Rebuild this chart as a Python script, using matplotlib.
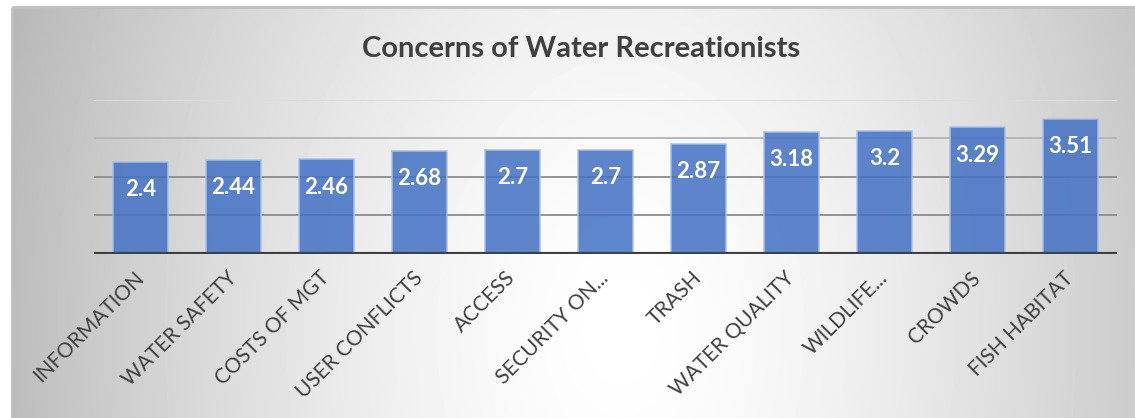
import numpy as np
import matplotlib.pyplot as plt
from matplotlib.patches import Rectangle

categories = ["INFORMATION", "WATER SAFETY", "COSTS OF MGT", "USER CONFLICTS",
              "ACCESS", "SECURITY ON...", "TRASH", "WATER QUALITY",
              "WILDLIFE...", "CROWDS", "FISH HABITAT"]
values = [2.4, 2.44, 2.46, 2.68, 2.7, 2.7, 2.87, 3.18, 3.2, 3.29, 3.51]
grid_levels = [1, 2, 3, 4]
grid_colors = ["#8c8c8c", "#8c8c8c", "#b4b4b4", "#dcdcdc"]

W, H = 1135, 418
plt.rcParams['font.family'] = ['Lato', 'DejaVu Sans']

fig = plt.figure(figsize=(W / 100, H / 100), dpi=100)

# gradient background of the chart frame
bg = fig.add_axes([0, 0, 1, 1])
bg.set_xlim(0, W)
bg.set_ylim(H, 0)
bg.axis('off')
xx, yy = np.meshgrid(np.arange(12, W), np.arange(7, H))
r = np.sqrt(((xx - 620) / 610.0) ** 2 + ((yy - 330) / 900.0) ** 2)
shade = np.clip(1 - 0.26 * r ** 1.5, 0, 1)
bg.imshow(shade, cmap='gray', vmin=0, vmax=1, extent=(12, W, H, 7),
          interpolation='bilinear', aspect='auto')
bg.add_patch(Rectangle((12, 7), W, H, fill=False, edgecolor='#bfbfbf', lw=2))
bg.text(581, 49, "Concerns of Water Recreationists", ha='center', va='center',
        fontsize=21, fontweight='bold', color='#404040')

# bar chart
ax = fig.add_axes([94 / W, 1 - 254 / H, 1023 / W, 154 / H])
ax.patch.set_alpha(0)
x = np.arange(len(categories))
for lvl, col in zip(grid_levels, grid_colors):
    ax.axhline(lvl, color=col, lw=1.3, zorder=1)
bars = ax.bar(x, values, width=0.6, color='#4472C4', alpha=0.86,
              edgecolor='#a9c1e8', linewidth=1.2, zorder=2)
for b, v in zip(bars, values):
    ax.annotate(f"{v:g}", (b.get_x() + b.get_width() / 2, v), xytext=(0, -20),
                textcoords='offset points', ha='center', va='center',
                color='white', fontsize=16, fontweight='bold', zorder=3)
ax.axhline(0, color='#404040', lw=3, zorder=4)
ax.set_xlim(-0.5, len(categories) - 0.5)
ax.set_ylim(0, 4)
ax.set_yticks([])
ax.set_xticks(x)
ax.set_xticklabels(categories, rotation=45, ha='right', va='center',
                   rotation_mode='anchor', fontsize=15, color='#404040')
ax.tick_params(axis='x', length=0, pad=15)
for s in ax.spines.values():
    s.set_visible(False)

fig.savefig("out.png", dpi=100)
